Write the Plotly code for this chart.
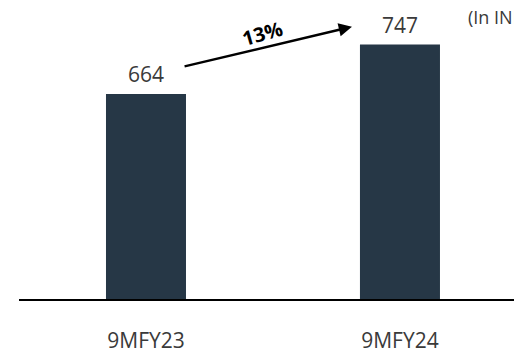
import plotly.graph_objects as go

# Revenue for the two nine-month periods (INR Crore)
categories = ["9MFY23", "9MFY24"]
values = [664, 747]
growth_label = "13%"
unit_note = "(In INR Crore)"

bar_color = "#263746"
text_color = "#3a3a3a"
font_family = "Open Sans, Lato, sans-serif"

fig = go.Figure(
    go.Bar(
        x=categories,
        y=values,
        width=0.315,
        marker=dict(color=bar_color, line=dict(width=0)),
        hoverinfo="skip",
    )
)

# Value labels sitting above each bar
for cat, val in zip(categories, values):
    fig.add_annotation(
        x=cat, y=val, text=str(val), showarrow=False,
        xref="x", yref="y", yanchor="bottom", yshift=4,
        font=dict(family=font_family, size=21, color=text_color),
    )

# Growth arrow between the two periods
fig.add_annotation(
    x=0.811, y=777, ax=0.146, ay=709.6,
    xref="x", yref="y", axref="x", ayref="y",
    text="", showarrow=True, arrowhead=2, arrowsize=1.1,
    arrowwidth=2.4, arrowcolor="#000000",
)
fig.add_annotation(
    x=0.457, y=765, xref="x", yref="y", text=f"<b>{growth_label}</b>",
    showarrow=False, textangle=-16,
    font=dict(family=font_family, size=20, color="#000000"),
)

# Unit note in the top-right corner
fig.add_annotation(
    x=0.903, y=0.943, xref="paper", yref="paper", text=unit_note,
    showarrow=False, xanchor="left", yanchor="middle",
    font=dict(family=font_family, size=18, color=text_color),
)

fig.update_layout(
    width=514, height=351,
    margin=dict(l=19, r=0, t=0, b=52),
    paper_bgcolor="white", plot_bgcolor="white",
    showlegend=False,
    xaxis=dict(
        range=[-0.5, 1.449], showline=True, linecolor="#000000", linewidth=2,
        showgrid=False, zeroline=False, ticks="", ticklabelstandoff=22,
        automargin=False,
        tickfont=dict(family=font_family, size=21, color=text_color),
    ),
    yaxis=dict(
        range=[319, 822], visible=False, showgrid=False, zeroline=False,
    ),
)

fig.write_html("out.html")
